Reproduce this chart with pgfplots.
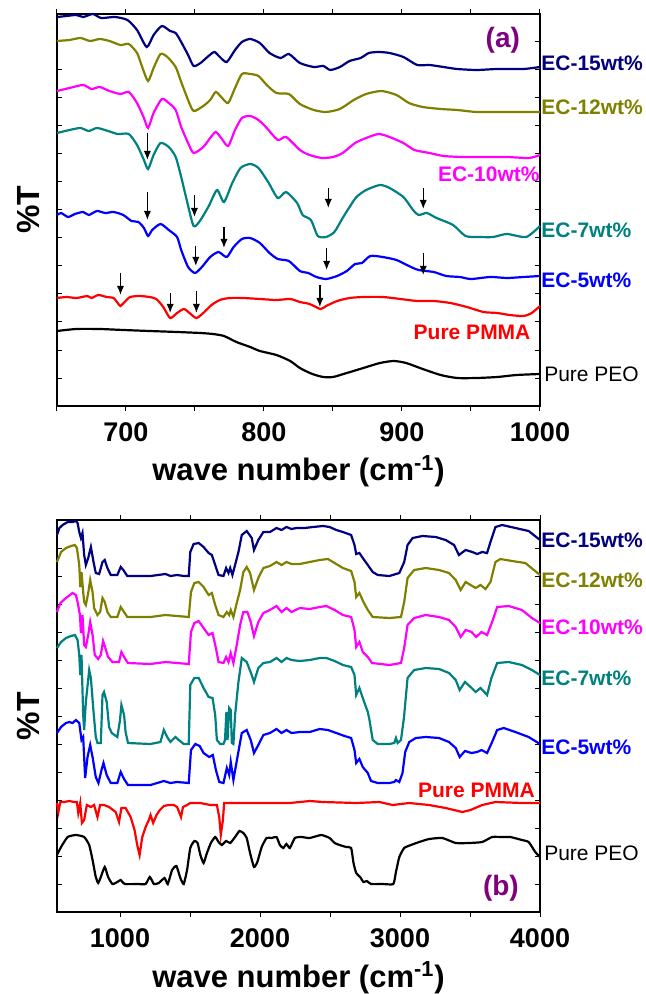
\documentclass[border=0pt]{standalone}
\usepackage{pgfplots}
\pgfplotsset{compat=1.18}
\usepackage{fontspec}
\setmainfont{Liberation Sans}
\usetikzlibrary{arrows.meta}
\definecolor{cnavy}{RGB}{0,0,128}
\definecolor{colive}{RGB}{128,128,0}
\definecolor{cmag}{RGB}{255,0,255}
\definecolor{cteal}{RGB}{0,128,128}
\definecolor{cblue}{RGB}{0,0,255}
\definecolor{cred}{RGB}{255,0,0}
\definecolor{cpurple}{RGB}{128,0,128}
\tikzset{lab/.style={anchor=west, inner sep=0pt, font=\fontsize{10.5}{11}\selectfont\bfseries},
  sp/.style={line width=1.1pt}}
\pgfplotsset{ftir/.style={
  scale only axis, width=241.5pt, height=196pt,
  ymin=0, ymax=392, ytick={0,28,...,392}, yticklabels={},
  clip=false, axis line style={line width=0.6pt},
  tick style={black, line width=0.5pt}, major tick length=2.6pt,
  xtick align=outside, ytick align=inside,
  xticklabel style={font=\fontsize{13.5}{14}\selectfont\bfseries, anchor=base, yshift=-14.9pt},
  xlabel={wave number (cm\textsuperscript{-1})},
  xlabel style={at={(axis description cs:0.5,-0.1913)}, anchor=base, font=\fontsize{15.5}{16}\selectfont\bfseries},
  ylabel={\%T},
  ylabel style={at={(axis description cs:-0.06,0.5)}, anchor=center, font=\fontsize{16}{16}\selectfont\bfseries},
}}
\begin{document}
\begin{tikzpicture}
\path[use as bounding box] (0,0) rectangle (323pt,-497pt);
% ---------------- (a) ----------------
\begin{axis}[ftir, at={(28.5pt,-7pt)}, anchor=north west,
  xmin=650, xmax=1000, xtick={650,700,...,1000}, xticklabels={,700,,800,,900,,1000}]
\addplot[sp, cnavy, smooth, tension=0.4] coordinates {
(650,389) (657,390) (664,391) (669,389) (676,392) (682,388) (692,389) (701,386) (708,376) (715,359) (720,371) (726,380) (732,375) (736,373) (740,364) (745,351) (749,340) (754,343) (759,349) (764,354) (768,349) (773,344) (779,356) (784,364) (790,367) (797,363) (804,353) (812,348) (818,352) (826,343) (836,339) (843,340) (848,336) (855,339) (862,345) (870,348) (876,353) (883,354) (891,353) (901,349) (911,341) (920,341) (930,339) (940,337) (954,336) (969,337) (988,337) (1000,339)};
\addplot[sp, colive, smooth, tension=0.4] coordinates {
(650,365) (659,366) (667,368) (674,365) (681,367) (688,365) (696,361) (702,362) (708,353) (712,338) (716,325) (720,338) (725,352) (730,349) (736,339) (740,324) (745,306) (749,295) (756,300) (761,306) (765,314) (769,309) (774,303) (779,318) (784,332) (790,332) (796,330) (802,321) (809,313) (818,312) (826,302) (836,296) (845,294) (855,297) (865,306) (874,312) (885,315) (896,311) (905,303) (915,299) (928,297) (940,296) (954,294) (973,294) (1000,294)};
\addplot[sp, cmag, smooth, tension=0.4] coordinates {
(650,315) (659,318) (669,321) (675,317) (681,319) (688,315) (696,312) (702,314) (708,303) (713,288) (716,278) (720,293) (726,307) (731,303) (736,296) (740,279) (745,263) (749,253) (756,259) (761,268) (765,274) (769,268) (774,260) (779,276) (784,288) (790,290) (796,286) (802,278) (810,266) (816,269) (826,256) (833,251) (842,248) (850,249) (857,253) (866,263) (874,268) (883,272) (891,269) (901,263) (909,256) (920,253) (930,250) (944,249) (959,249) (976,249) (992,248) (1000,251)};
\addplot[sp, cteal, smooth, tension=0.4] coordinates {
(650,273) (659,276) (667,278) (673,275) (679,278) (687,275) (694,272) (702,272) (708,261) (713,246) (716,237) (720,251) (725,263) (731,259) (736,249) (740,229) (744,206) (749,180) (754,186) (760,200) (766,216) (771,204) (777,223) (783,238) (790,242) (796,238) (803,224) (810,208) (816,214) (824,203) (828,191) (834,186) (839,170) (845,169) (851,174) (857,188) (862,199) (867,209) (874,216) (884,221) (891,218) (901,209) (908,196) (912,191) (918,193) (925,188) (937,181) (946,170) (956,169) (966,169) (976,172) (990,169) (1000,180)};
\addplot[sp, cblue, smooth, tension=0.4] coordinates {
(650,191) (653,193) (658,189) (663,192) (669,194) (673,191) (679,195) (685,193) (691,194) (698,191) (704,185) (709,184) (713,178) (716,170) (719,176) (725,182) (731,176) (737,169) (740,156) (745,139) (750,133) (755,139) (761,149) (767,154) (773,149) (778,159) (784,167) (790,168) (797,163) (804,153) (810,147) (818,145) (826,135) (832,133) (838,129) (845,127) (853,130) (860,135) (866,142) (871,143) (877,150) (886,149) (896,146) (905,140) (912,136) (923,134) (932,130) (942,129) (950,127) (964,129) (976,128) (988,129) (1000,130)};
\addplot[sp, cred, smooth, tension=0.4] coordinates {
(650,108) (657,109) (664,108) (672,110) (675,108) (680,111) (686,109) (691,108) (694,103) (696,100) (699,104) (703,109) (710,110) (717,109) (722,107) (727,99) (732,88) (737,93) (742,97) (746,93) (751,88) (756,93) (762,101) (768,106) (775,108) (785,108) (797,107) (809,106) (819,107) (826,104) (833,102) (841,97) (845,100) (853,105) (862,108) (872,109) (886,109) (899,107) (911,105) (923,105) (935,103) (947,99) (959,94) (969,93) (978,91) (988,90) (994,93) (1000,100)};
\addplot[sp, black, smooth, tension=0.4] coordinates {
(650,75) (664,77) (681,77) (698,76) (717,75) (737,74) (754,73) (763,72) (771,70) (780,64) (790,59) (797,55) (809,51) (819,45) (826,38) (835,32) (843,29) (850,29) (860,33) (872,38) (884,43) (894,45) (903,43) (915,37) (928,31) (940,28) (954,28) (969,29) (983,31) (1000,32)};
\addplot[black, line width=0.65pt, -{Latex[length=4.5pt,width=3.6pt]}, quiver={u=0, v=\thisrow{v}}] table {
x y v
696 133 -22
715.5 273 -27
715.5 214 -28
732 113 -20
749.6 211 -22
750.6 160 -20
751 115 -22
771 179 -21
840.5 121 -22
846.6 218 -20
845.4 158 -22
915.4 218 -21
915.4 153 -22
};
\node[lab, text=cnavy] at (rel axis cs:1.002,0.875) {EC-15wt\%};
\node[lab, text=colive] at (rel axis cs:1.002,0.763) {EC-12wt\%};
\node[lab, anchor=east, text=cmag] at (rel axis cs:1.0,0.592) {EC-10wt\%};
\node[lab, text=cteal] at (rel axis cs:1.002,0.449) {EC-7wt\%};
\node[lab, text=cblue] at (rel axis cs:1.002,0.321) {EC-5wt\%};
\node[lab, anchor=east, text=cred] at (rel axis cs:0.981,0.189) {Pure PMMA};
\node[lab, font=\fontsize{10.5}{11}\selectfont] at (rel axis cs:1.008,0.082) {Pure PEO};
\node[inner sep=0pt, text=cpurple, font=\fontsize{14}{14}\selectfont\bfseries] at (rel axis cs:0.923,0.934) {(a)};
\end{axis}
% ---------------- (b) ----------------
\begin{axis}[ftir, at={(28.5pt,-260pt)}, anchor=north west,
  xmin=550, xmax=4000, xtick={1000,1500,...,4000}, xticklabels={1000,,2000,,3000,,4000}]
\addplot[sp, cnavy] coordinates {
(550,377) (567,384) (590,387) (626,390) (661,390) (685,391) (697,389) (709,380) (721,374) (732,379) (744,357) (756,347) (773,354) (792,365) (811,350) (827,339) (851,338) (875,350) (891,352) (910,344) (934,337) (981,337) (1005,345) (1024,342) (1052,336) (1123,336) (1218,336) (1325,338) (1360,336) (1408,337) (1455,336) (1491,336) (1502,360) (1526,368) (1562,369) (1597,365) (1633,359) (1656,357) (1680,347) (1704,337) (1739,336) (1758,344) (1775,339) (1787,344) (1803,337) (1822,347) (1846,360) (1870,377) (1905,381) (1941,374) (1957,362) (1988,372) (2024,380) (2071,380) (2118,384) (2154,382) (2189,385) (2225,383) (2260,384) (2320,384) (2379,385) (2450,386) (2497,385) (2545,382) (2592,380) (2651,377) (2675,367) (2687,358) (2710,359) (2734,354) (2770,347) (2805,340) (2841,337) (2924,336) (2995,339) (3030,350) (3054,367) (3090,374) (3161,376) (3255,375) (3326,372) (3386,367) (3421,357) (3469,362) (3516,360) (3551,358) (3587,360) (3622,359) (3646,370) (3682,385) (3729,387) (3824,384) (3919,381) (4000,372)};
\addplot[sp, colive] coordinates {
(550,350) (579,360) (614,364) (650,366) (678,367) (692,364) (709,347) (716,325) (725,340) (737,320) (744,310) (756,307) (773,319) (787,332) (804,320) (815,304) (839,297) (858,300) (875,314) (891,310) (910,300) (934,295) (981,295) (1005,305) (1029,300) (1052,295) (1218,295) (1325,297) (1408,296) (1491,295) (1507,320) (1531,329) (1562,330) (1597,325) (1633,317) (1656,319) (1680,307) (1704,297) (1739,295) (1763,300) (1780,297) (1791,302) (1810,295) (1834,309) (1858,322) (1881,340) (1905,345) (1929,339) (1957,322) (1988,334) (2024,344) (2071,346) (2118,350) (2154,347) (2189,350) (2225,348) (2284,348) (2355,350) (2426,352) (2485,353) (2533,349) (2592,344) (2651,341) (2675,330) (2687,315) (2710,319) (2739,310) (2770,302) (2805,295) (2924,294) (3007,295) (3030,310) (3054,334) (3101,342) (3184,344) (3279,342) (3350,339) (3398,332) (3433,322) (3469,330) (3504,327) (3540,324) (3575,327) (3611,323) (3646,330) (3682,350) (3717,353) (3800,351) (3895,349) (4000,337)};
\addplot[sp, cmag] coordinates {
(550,300) (574,309) (614,314) (661,319) (685,317) (697,310) (714,297) (721,279) (732,297) (744,267) (756,265) (773,277) (787,290) (804,277) (820,257) (844,253) (863,257) (879,271) (893,265) (915,255) (946,250) (993,250) (1010,260) (1029,255) (1057,249) (1218,248) (1325,250) (1408,249) (1491,248) (1507,280) (1531,289) (1562,291) (1597,284) (1633,277) (1661,279) (1685,264) (1704,250) (1739,249) (1758,255) (1775,250) (1791,259) (1810,249) (1834,267) (1858,287) (1881,300) (1910,300) (1934,290) (1957,276) (1988,290) (2024,299) (2071,302) (2118,306) (2154,300) (2189,304) (2225,300) (2284,304) (2355,303) (2426,305) (2474,306) (2533,302) (2592,297) (2651,295) (2675,282) (2687,265) (2710,270) (2734,260) (2770,255) (2800,249) (2924,247) (3007,249) (3030,264) (3054,287) (3101,294) (3184,297) (3279,295) (3350,292) (3398,285) (3433,275) (3469,282) (3511,280) (3544,275) (3582,280) (3622,277) (3658,290) (3694,305) (3776,306) (3871,302) (3942,294) (4000,289)};
\addplot[sp, cteal] coordinates {
(550,264) (579,270) (614,274) (650,276) (678,277) (697,272) (709,257) (716,237) (725,257) (737,197) (744,182) (756,210) (780,242) (792,234) (811,200) (827,175) (839,169) (863,169) (875,217) (886,220) (905,210) (922,185) (941,179) (981,175) (1000,192) (1010,207) (1029,197) (1040,180) (1057,169) (1218,168) (1289,170) (1313,182) (1337,175) (1360,170) (1396,175) (1420,172) (1455,168) (1491,168) (1502,227) (1531,234) (1562,234) (1597,224) (1633,215) (1661,214) (1680,197) (1692,172) (1716,168) (1739,168) (1750,172) (1760,200) (1768,172) (1780,204) (1791,202) (1799,169) (1810,168) (1822,197) (1846,230) (1870,254) (1905,250) (1941,237) (1957,230) (1988,244) (2024,249) (2071,250) (2118,254) (2154,250) (2189,254) (2225,252) (2284,251) (2355,252) (2426,254) (2474,254) (2533,251) (2592,247) (2651,245) (2675,237) (2687,217) (2710,224) (2734,214) (2770,200) (2782,192) (2805,172) (2841,168) (2924,168) (2959,169) (2971,174) (2983,169) (3007,172) (3026,192) (3030,197) (3054,234) (3101,242) (3184,244) (3279,243) (3350,239) (3398,232) (3426,222) (3464,230) (3504,225) (3540,220) (3575,224) (3622,217) (3653,234) (3694,249) (3776,250) (3871,247) (3942,242) (4000,237)};
\addplot[sp, cblue] coordinates {
(550,179) (579,185) (614,189) (638,190) (661,189) (685,192) (709,189) (725,172) (737,175) (751,134) (768,155) (787,167) (804,155) (827,135) (846,129) (868,142) (882,149) (905,137) (934,129) (981,129) (1005,140) (1029,133) (1057,127) (1218,127) (1313,131) (1360,129) (1408,130) (1491,129) (1507,162) (1538,168) (1569,166) (1597,159) (1637,155) (1663,157) (1685,142) (1709,130) (1739,129) (1763,144) (1780,137) (1791,150) (1810,132) (1839,155) (1870,179) (1905,182) (1934,172) (1957,159) (1988,167) (2024,177) (2071,179) (2118,183) (2154,179) (2189,182) (2225,179) (2284,180) (2355,180) (2426,183) (2485,182) (2545,179) (2604,176) (2651,174) (2675,162) (2687,149) (2710,153) (2734,145) (2770,139) (2793,131) (2841,129) (2924,129) (2959,130) (2971,132) (2995,130) (3018,139) (3037,160) (3066,170) (3113,174) (3184,175) (3279,174) (3350,170) (3398,164) (3426,155) (3464,161) (3511,159) (3551,160) (3582,162) (3622,159) (3658,170) (3694,182) (3741,184) (3824,180) (3919,175) (4000,168)};
\addplot[sp, cred] coordinates {
(550,109) (560,100) (574,110) (602,110) (638,111) (673,110) (692,110) (702,99) (716,109) (728,89) (744,92) (763,107) (792,105) (815,107) (839,95) (858,107) (886,107) (922,105) (969,100) (993,90) (1010,104) (1040,104) (1076,95) (1104,82) (1123,67) (1140,57) (1159,75) (1183,85) (1206,92) (1218,97) (1237,89) (1261,97) (1285,102) (1313,106) (1348,107) (1384,107) (1408,105) (1436,95) (1450,105) (1479,107) (1502,109) (1574,109) (1645,107) (1692,107) (1709,95) (1720,77) (1735,92) (1744,109) (1834,109) (2024,109) (2213,109) (2355,111) (2450,110) (2687,109) (2853,110) (2947,107) (3066,109) (3208,107) (3326,104) (3445,100) (3504,102) (3587,107) (3682,110) (3871,109) (4000,109)};
\addplot[sp, black, smooth, tension=0.3] coordinates {
(550,57) (579,65) (626,75) (685,77) (744,75) (780,67) (804,52) (827,35) (844,29) (863,35) (891,45) (915,35) (946,28) (981,30) (1005,32) (1033,28) (1123,28) (1183,28) (1213,35) (1242,28) (1277,29) (1318,34) (1341,28) (1372,42) (1403,46) (1431,34) (1455,28) (1479,42) (1502,64) (1531,71) (1554,69) (1574,57) (1597,49) (1621,59) (1649,69) (1680,75) (1704,70) (1727,67) (1758,71) (1787,69) (1822,75) (1853,81) (1881,79) (1905,74) (1929,59) (1957,45) (1981,50) (2012,65) (2047,74) (2083,74) (2118,75) (2142,67) (2166,64) (2189,68) (2213,64) (2249,74) (2296,75) (2355,74) (2438,77) (2497,74) (2533,69) (2568,67) (2616,65) (2651,64) (2668,49) (2687,39) (2715,35) (2739,30) (2763,31) (2793,28) (2876,28) (2952,28) (2971,40) (2995,55) (3030,64) (3078,67) (3137,70) (3208,73) (3303,74) (3398,69) (3492,69) (3587,70) (3658,75) (3729,75) (3788,75) (3871,72) (3919,70) (3966,60) (4000,55)};
\node[lab, text=cnavy] at (rel axis cs:1.002,0.949) {EC-15wt\%};
\node[lab, text=colive] at (rel axis cs:1.002,0.847) {EC-12wt\%};
\node[lab, text=cmag] at (rel axis cs:1.002,0.727) {EC-10wt\%};
\node[lab, text=cteal] at (rel axis cs:1.002,0.597) {EC-7wt\%};
\node[lab, text=cblue] at (rel axis cs:1.002,0.421) {EC-5wt\%};
\node[lab, anchor=east, text=cred] at (rel axis cs:0.990,0.311) {Pure PMMA};
\node[lab, font=\fontsize{10.5}{11}\selectfont] at (rel axis cs:1.008,0.151) {Pure PEO};
\node[inner sep=0pt, text=cpurple, font=\fontsize{14}{14}\selectfont\bfseries] at (rel axis cs:0.919,0.061) {(b)};
\end{axis}
\end{tikzpicture}
\end{document}
